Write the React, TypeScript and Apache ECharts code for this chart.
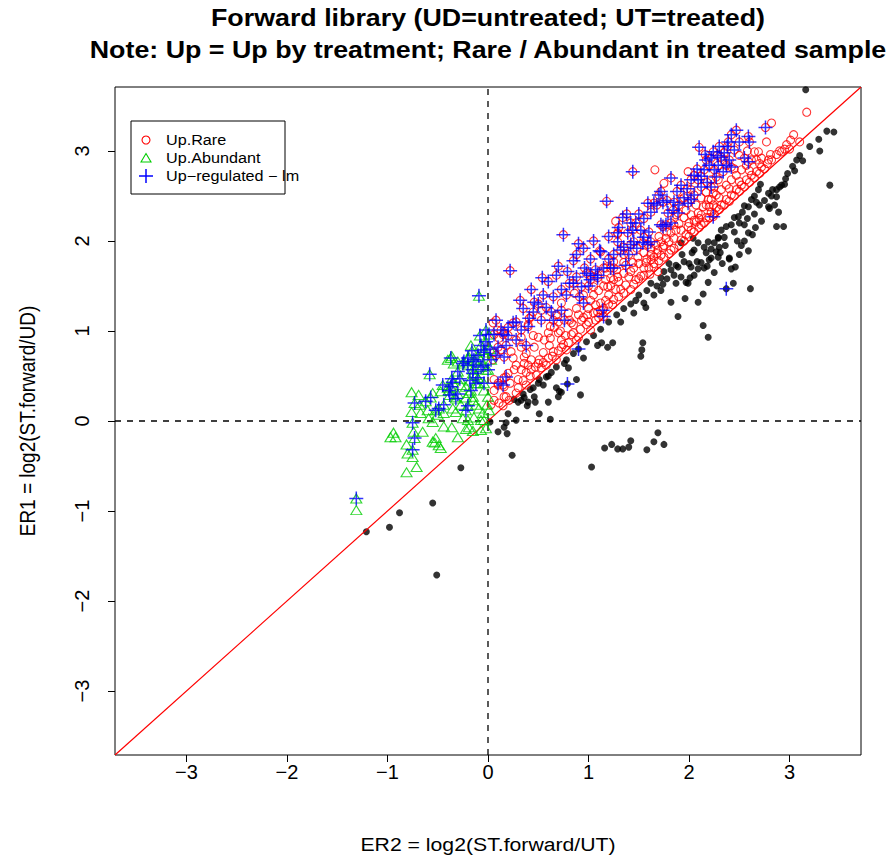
import React, { useEffect, useRef } from "react";
import * as echarts from "echarts";

// ---------- data (x = ER2, y = ER1) ----------
const AXIS_LIMIT = 3.71;
const tickValues = [-3, -2, -1, 0, 1, 2, 3];

const titleLines = [
  "Forward library (UD=untreated; UT=treated)",
  "Note: Up = Up by treatment; Rare / Abundant in treated sample",
];
const xAxisTitle = "ER2 = log2(ST.forward/UT)";
const yAxisTitle = "ER1 = log2(ST.forward/UD)";
const legendLabels = ["Up.Rare", "Up.Abundant", "Up\u2212regulated \u2212 lm"];

// genes not flagged as up (black dots)
const otherGenes: number[][] = [
  [3.37,3.22],[3.44,3.21],[3.29,3.13],[3.30,3.00],[3.40,2.62],[3.13,2.89],[3.07,2.90],[3.03,2.83],[2.96,2.69],[2.95,2.63],
  [2.90,2.60],[2.87,2.57],[2.87,2.49],[2.83,2.57],[2.79,2.53],[2.71,2.63],[2.69,2.57],[2.65,2.50],[2.62,2.46],[2.67,2.43],
  [2.59,2.38],[2.79,2.38],[2.80,2.36],[2.89,2.32],[2.55,2.39],[2.53,2.32],[2.49,2.27],[2.45,2.26],[2.42,2.18],[2.37,2.16],
  [2.32,2.12],[2.35,2.04],[2.45,2.10],[2.55,2.18],[2.59,2.09],[2.63,2.07],[2.87,2.16],[2.94,2.16],[2.59,1.89],[2.29,2.04],
  [2.25,1.98],[2.22,1.91],[2.19,1.99],[2.15,1.93],[2.09,1.98],[2.05,1.90],[2.30,1.93],[2.31,1.87],[2.12,1.76],[2.08,1.77],
  [2.15,1.70],[2.22,1.81],[2.40,1.81],[2.42,1.69],[2.46,1.71],[2.19,1.54],[2.44,1.53],[2.61,1.47],[2.29,1.82],[2.40,1.80],
  [2.09,1.69],[2.01,1.59],[1.97,1.54],[1.96,1.36],[2.14,1.41],[2.09,1.32],[2.14,1.06],[2.19,0.93],[2.04,2.03],[1.92,1.98],
  [2.03,1.87],[2.17,1.87],[1.87,1.73],[1.82,1.68],[1.75,1.66],[1.85,1.62],[1.72,1.59],[1.62,1.53],[1.74,1.52],[1.87,1.53],
  [1.99,1.53],[2.29,2.03],[1.95,1.77],[2.20,1.79],[1.89,1.71],[2.02,1.71],[1.92,1.60],[1.47,1.34],[1.55,1.31],[1.57,1.26],
  [1.82,1.32],[1.89,1.16],[1.32,1.10],[1.54,0.87],[1.53,0.79],[1.52,0.72],[1.09,0.84],[1.13,0.87],[1.19,0.82],[1.24,0.87],
  [0.80,0.59],[0.76,0.64],[0.63,0.54],[0.58,0.49],[0.88,0.46],[0.51,0.46],[0.50,0.42],[0.45,0.37],[0.68,0.37],[0.71,0.33],
  [0.73,0.32],[0.70,0.27],[0.92,0.29],[0.46,0.27],[0.36,0.26],[0.33,0.23],[0.30,0.21],[0.26,0.24],[0.40,0.21],[0.47,0.21],
  [0.60,0.21],[0.39,0.17],[0.20,0.08],[0.51,0.08],[0.62,0.02],[0.28,0.01],[0.18,-0.02],[0.16,-0.07],[0.10,-0.12],[0.19,-0.14],
  [0.24,-0.38],[1.03,-0.51],[1.16,-0.30],[1.23,-0.26],[1.29,-0.31],[1.34,-0.31],[1.40,-0.29],[1.42,-0.22],[1.58,-0.32],[1.65,-0.23],
  [1.69,-0.13],[1.75,-0.26],[0.02,-0.01],[-0.27,-0.52],[-0.55,-0.91],[-0.88,-1.02],[-0.98,-1.18],[-1.21,-1.23],[-0.51,-1.71],[3.16,3.68],
  [2.50,2.20],[2.58,2.25],[2.65,2.30],[2.70,2.40],[2.75,2.45],[2.82,2.50],[2.85,2.40],[2.92,2.62],[2.98,2.75],[3.05,2.78],
  [3.10,2.95],[3.20,3.05],[2.48,2.00],[2.52,1.95],[2.36,1.95],[2.27,1.88],[2.18,1.72],[2.25,1.65],[2.33,1.75],[2.50,1.85],
  [2.55,2.00],[2.66,2.15],[2.72,2.22],[2.05,1.62],[2.00,1.75],[1.93,1.85],[1.80,1.75],[1.78,1.58],[1.68,1.50],[1.58,1.45],
  [1.50,1.40],[1.42,1.30],[1.35,1.25],[1.28,1.18],[1.20,1.10],[1.12,1.02],[1.05,0.95],[0.98,0.88],[0.95,0.70],[0.85,0.75],
  [0.78,0.68],[0.68,0.60],[0.60,0.50],[0.55,0.40],[0.42,0.35],[0.35,0.30],[1.45,1.20],[1.65,1.40],[1.72,1.45],
];

// Up.Rare only (red circles)
const upRare: number[][] = [
  [3.17,3.43],[2.82,3.31],[2.77,3.10],[3.10,3.10],[2.90,3.00],[2.95,3.02],[3.00,3.02],[2.81,2.96],[2.79,2.90],[2.65,2.99],
  [2.69,2.99],[1.66,2.79],[1.99,2.77],[1.75,2.64],[1.27,2.22],[1.29,2.08],[1.25,1.77],[1.35,1.76],[1.42,1.66],[1.52,1.61],
  [1.57,1.76],[1.65,1.82],[1.69,1.90],[1.74,1.93],[1.80,1.99],[1.85,2.03],[1.92,2.12],[1.99,2.16],[2.05,2.23],[2.09,2.31],
  [2.14,2.38],[2.19,2.46],[2.24,2.53],[2.25,2.60],[2.29,2.68],[1.87,2.12],[1.90,2.19],[1.95,2.26],[1.82,2.09],[1.77,2.03],
  [1.72,1.99],[1.67,1.96],[1.62,1.92],[1.55,1.87],[1.49,1.82],[1.44,1.76],[1.55,1.70],[1.65,1.71],[1.69,1.66],[1.61,1.63],
  [1.35,1.64],[1.29,1.60],[1.22,1.59],[1.17,1.70],[1.17,1.57],[1.25,1.57],[1.05,1.49],[1.19,1.49],[1.02,1.34],[1.12,1.31],
  [1.20,1.40],[1.27,1.46],[0.73,1.31],[0.53,1.23],[0.81,1.12],[0.90,1.18],[0.99,1.18],[1.09,1.21],[0.05,1.09],[0.43,1.16],
  [0.40,1.07],[0.66,1.04],[0.85,1.07],[0.16,0.98],[0.33,0.93],[0.50,0.93],[0.60,0.98],[0.70,0.98],[0.83,1.09],[1.07,1.29],
  [1.24,1.29],[0.90,0.93],[0.80,0.87],[0.73,0.82],[0.65,0.77],[0.55,0.76],[0.43,0.68],[0.50,0.64],[0.36,0.64],[0.33,0.57],
  [0.38,0.54],[0.26,0.57],[0.20,0.53],[0.16,0.48],[0.30,0.46],[0.06,0.46],[0.10,0.40],[0.16,0.38],[0.30,0.37],[0.16,0.27],
  [0.06,0.34],[0.06,0.23],[0.15,0.17],[0.03,0.18],[0.33,0.82],[0.23,0.77],[0.13,0.79],[0.06,0.76],[0.05,0.68],[0.36,0.71],
  [0.46,0.82],[0.51,0.68],[0.53,0.59],[0.43,0.57],[0.09,1.01],[0.11,0.92],[0.11,0.20],[0.18,0.27],[2.17,2.40],[2.22,2.46],
  [2.27,2.51],[2.32,2.57],[2.37,2.62],[2.42,2.68],[2.47,2.73],[2.52,2.79],[2.57,2.84],[2.62,2.90],[2.67,2.90],[2.72,2.92],
  [2.32,2.40],[2.37,2.46],[2.42,2.51],[2.47,2.57],[2.52,2.62],[2.57,2.68],[2.62,2.73],[2.67,2.77],[2.72,2.82],[2.12,2.29],
  [2.17,2.26],[2.22,2.32],[2.27,2.37],[2.07,2.21],[2.02,2.12],[1.97,2.07],[2.12,2.18],[2.24,2.40],[2.02,2.29],[2.07,2.40],
  [2.12,2.48],[2.17,2.54],[2.22,2.68],[2.02,2.57],[1.92,2.46],[1.97,2.34],[1.87,2.29],[2.82,2.90],[2.87,2.96],[2.92,2.99],
  [2.97,3.07],[3.01,3.12],[3.04,3.18],[1.32,1.46],[1.37,1.51],[1.42,1.46],[1.47,1.57],[1.12,1.23],[1.17,1.34],[0.93,1.12],
  [0.98,1.07],[1.02,1.01],[1.07,1.12],[0.83,0.96],[0.73,0.90],[0.61,0.84],[0.68,0.68],[0.58,0.62],[0.48,0.51],[0.38,0.40],
  [0.28,0.31],[0.21,0.23],[0.78,0.79],[0.88,0.90],[1.62,1.79],[1.72,1.84],[1.82,1.90],[1.92,2.01],
  [0.35,0.45],[0.42,0.50],[0.47,0.60],[0.55,0.65],[0.60,0.70],[0.40,0.62],[0.56,0.90],[0.62,0.92],[0.45,0.95],[0.25,0.70],
  [0.28,0.62],[0.22,0.42],[0.38,0.75],[0.64,0.72],[0.70,0.78],[0.75,0.85],[0.77,0.95],[0.85,0.98],[0.92,1.02],[0.95,1.15],
  [0.88,1.25],[0.80,1.20],[0.70,1.10],[0.68,1.18],[0.72,1.00],[0.62,1.05],[0.95,1.40],[0.86,1.42],[1.00,1.10],[1.05,1.20],
  [1.10,1.15],[1.15,1.25],[1.20,1.30],[1.25,1.35],[1.30,1.38],[1.35,1.42],[1.10,1.45],[1.15,1.50],[1.30,1.55],[1.22,1.50],
  [1.28,1.68],[1.35,1.85],[1.40,1.60],[1.00,1.25],[1.05,1.40],[1.45,1.52],[1.50,1.58],[1.55,1.62],[1.60,1.70],[1.65,1.75],
  [1.70,1.78],[1.75,1.82],[1.80,1.86],[1.85,1.92],[1.58,1.80],[1.50,1.75],[1.68,1.86],[1.75,1.95],[1.45,1.70],[1.62,1.85],
  [1.78,2.10],[1.70,2.05],[1.85,2.18],[1.90,1.95],[1.95,2.00],[2.00,2.05],[2.05,2.10],[2.10,2.15],[2.15,2.20],[2.20,2.26],
  [2.25,2.30],[2.30,2.35],[2.35,2.40],[2.40,2.44],[2.45,2.50],[2.50,2.55],[2.00,2.20],[2.10,2.25],[2.20,2.38],[2.30,2.48],
  [2.40,2.58],[2.50,2.66],[2.55,2.60],[2.60,2.65],[2.65,2.70],[2.70,2.75],[2.75,2.80],[2.60,2.78],[2.70,2.86],[2.78,2.86],
  [2.50,2.95],[2.58,3.00],[2.35,2.90],[2.45,2.80],
];

// Up.Abundant only (green triangles)
const upAbundant: number[][] = [
  [-0.36,0.72],[-0.30,0.66],[-0.19,0.71],[-0.76,0.32],[-0.69,0.29],[-0.55,0.31],[-0.47,0.33],[-0.40,0.37],[-0.76,0.10],[-0.68,0.18],
  [-0.60,0.12],[-0.50,0.07],[-0.44,0.09],[-0.35,0.14],[-0.32,0.10],[-0.27,0.18],[-0.22,0.26],[-0.19,0.31],[-0.15,0.23],[-0.12,0.18],
  [-0.09,0.14],[-0.05,0.09],[-0.07,0.01],[-0.14,0.04],[-0.20,0.01],[-0.25,0.03],[-0.36,-0.07],[-0.44,-0.06],[-0.55,-0.01],[-0.59,0.03],
  [-0.19,-0.07],[-0.22,-0.09],[-0.15,-0.11],[-0.07,-0.10],[-0.02,-0.08],[-0.30,-0.18],[-0.52,-0.19],[-0.94,-0.13],[-0.92,-0.18],[-0.97,-0.18],
  [-0.74,-0.12],[-0.65,-0.12],[-0.10,0.42],[-0.04,0.34],[0.00,0.27],[-0.22,0.38],[-0.27,0.40],[-0.81,-0.26],[-0.55,-0.23],[-0.49,-0.27],
  [-0.47,-0.30],[-0.80,-0.36],[-0.75,-0.40],[-0.67,0.09],[-0.33,0.27],[-0.15,0.27],[-0.34,0.64],[-0.40,0.68],[-1.31,-0.99],[-0.81,-0.57],
  [-0.71,-0.51],[-0.53,-0.24],[-0.04,0.01],[-0.02,0.57],[-0.07,0.68],[-0.12,0.51],[-0.17,0.84],[-0.01,0.18],[0.01,0.12],
];

// Up-regulated (lm) that are also Up.Abundant
const lmAbundant: number[][] = [
  [-0.09,1.39],[-0.37,0.70],[-0.58,0.52],[-0.36,0.47],[-0.37,0.38],[-0.38,0.29],[-0.57,0.26],[-0.73,0.20],[-0.44,0.18],[-0.49,0.14],
  [-0.20,0.17],[-0.75,-0.02],[-0.73,-0.19],[-0.75,-0.32],[-0.17,0.34],[-0.12,0.42],[-0.20,0.62],[-0.15,0.57],[-0.24,0.66],[-0.07,0.84],
  [-0.02,1.01],[0.01,0.96],[-0.04,0.76],[-0.10,0.73],[-0.14,0.68],[-0.07,0.60],[0.00,0.57],[0.03,0.68],[-0.35,0.43],[-0.39,0.34],
  [-0.52,0.12],[-0.22,0.12],[-0.25,0.64],[-0.10,0.48],[-0.04,0.42],[-0.04,0.79],[-0.20,0.70],[-0.12,0.66],[-0.15,0.53],[-1.31,-0.86],
  [-0.30,0.55],[-0.28,0.47],[-0.45,0.40],[-0.62,0.22],[-0.32,0.25],[-0.05,0.62],[-0.02,0.88],[0.02,0.80],[-0.08,0.95],[-0.30,0.30],
  [-0.16,0.78],[-0.18,0.45],
];

// Up-regulated (lm) that are also Up.Rare
const lmRare: number[][] = [
  [0.10,0.82],[0.15,0.96],[0.20,1.04],[0.16,0.71],[0.10,0.42],[0.18,0.49],[0.15,0.40],[0.06,0.96],[1.18,2.44],[0.75,2.07],
  [0.90,1.97],[0.22,1.67],[1.11,1.89],[1.29,2.09],[0.85,1.78],[0.79,1.66],[0.96,1.70],[1.02,1.62],[1.09,1.59],[0.81,1.53],
  [0.93,1.49],[0.73,1.46],[0.78,1.40],[0.91,1.38],[0.95,1.31],[0.46,1.32],[0.58,1.26],[0.63,1.21],[0.73,1.23],[0.76,1.12],
  [0.45,1.21],[0.41,1.14],[0.53,1.12],[0.25,1.09],[0.65,1.12],[1.14,1.23],[1.15,1.16],[1.02,1.57],[0.98,1.64],[1.07,1.68],
  [1.44,2.77],[1.70,2.51],[1.74,2.43],[1.65,2.42],[1.82,2.70],[2.05,2.73],[2.09,2.68],[2.12,2.60],[2.17,2.90],[2.20,2.84],
  [2.25,2.79],[1.95,2.48],[1.90,2.40],[1.84,2.34],[1.89,2.31],[1.79,2.31],[1.77,2.18],[1.72,2.18],[1.99,2.42],[2.02,2.46],
  [1.47,2.20],[1.44,2.12],[1.52,2.12],[1.55,2.04],[1.59,1.96],[1.62,1.99],[1.39,2.09],[1.34,2.26],[1.35,1.93],[1.32,1.90],
  [1.29,1.99],[1.45,1.99],[1.12,1.88],[1.15,1.70],[1.22,1.70],[1.37,1.73],[1.09,1.62],[2.10,3.04],[2.16,2.96],[1.59,2.42],
  [1.85,2.43],[1.42,2.20],[1.74,2.16],[1.82,2.20],[1.42,1.96],[1.54,1.98],[1.25,1.70],[0.85,1.53],[2.76,3.26],[2.47,3.23],
  [2.59,3.16],[2.60,3.10],[2.42,3.18],[2.39,3.10],[2.24,2.99],[2.35,2.98],[2.45,3.01],[2.40,2.90],[2.32,2.93],[2.22,2.92],
  [2.55,2.92],[2.59,2.88],[2.29,2.84],[2.37,2.84],[2.42,2.82],[2.15,2.79],[2.27,2.71],[2.34,2.77],[2.22,2.60],[2.05,2.51],
  [2.24,2.27],[0.54,1.59],[0.43,1.46],[0.32,1.34],[0.28,1.10],[0.13,1.01],[0.08,1.12],[0.18,0.84],[0.28,0.90],[0.33,1.01],
  [0.38,0.84],[0.08,0.73],
  [0.60,1.55],[0.68,1.62],[0.70,1.72],[0.88,1.85],[0.95,1.92],[1.02,1.80],[1.05,2.00],[1.20,2.05],[1.25,1.85],[1.30,2.15],
  [1.38,2.30],[1.50,2.30],[1.55,2.25],[1.62,2.32],[1.68,2.40],[1.72,2.55],[1.78,2.45],[1.88,2.55],[1.92,2.62],[1.98,2.58],
  [2.02,2.68],[2.08,2.80],[2.12,2.72],[2.18,2.65],[2.28,2.95],[2.50,3.10],[2.38,3.05],[2.30,3.05],[1.60,2.10],[1.48,1.92],
  [1.40,1.85],[1.20,1.80],[1.00,1.50],[0.88,1.60],[0.65,1.38],[0.55,1.40],[0.50,1.30],[0.35,1.25],[0.40,1.05],[0.20,0.95],
];

// Up-regulated (lm) that are in neither Rare nor Abundant
const lmOther: number[][] = [[2.37,1.47],[0.90,0.80],[0.79,0.41]];

// ---------- styling ----------
const FONT = "'Liberation Sans', Arial, Helvetica, sans-serif";
const STRETCH = 1.117;
const GRID = { left: 115, top: 87, width: 746, height: 668 };
const minusFmt = (v: number) => (v < 0 ? "\u2212" + Math.abs(v) : String(v));

const plusPath = "path://M0,5 L10,5 M5,0 L5,10";
const triPath = "path://M0,10 L5.77,0 L11.55,10 Z";

function buildOption() {
  const axisCommon = {
    type: "value" as const,
    min: -AXIS_LIMIT,
    max: AXIS_LIMIT,
    axisLine: { show: false, onZero: false },
    splitLine: { show: false },
    axisTick: {
      show: true,
      inside: false,
      length: 7,
      customValues: tickValues,
      lineStyle: { color: "#000", width: 1 },
    },
  };
  const legendX = 131, legendY = 121;
  const dashStyle = { color: "#000", type: [6, 6] as number[], width: 1.3 };
  return {
    animation: false,
    backgroundColor: "#fff",
    grid: { ...GRID, show: true, borderColor: "#000", borderWidth: 1, backgroundColor: "transparent" },
    xAxis: {
      ...axisCommon,
      axisLabel: {
        customValues: tickValues,
        formatter: minusFmt,
        fontFamily: FONT,
        fontSize: 20,
        color: "#000",
        margin: 7,
      },
    },
    yAxis: {
      ...axisCommon,
      axisLabel: {
        customValues: tickValues,
        formatter: minusFmt,
        fontFamily: FONT,
        fontSize: 20,
        color: "#000",
        rotate: 90,
        margin: 23,
      },
    },
    series: [
      {
        type: "scatter",
        name: "other",
        data: [...otherGenes, ...lmOther],
        symbol: "circle",
        symbolSize: 7,
        itemStyle: { color: "#000" },
        silent: true,
        z: 2,
      },
      {
        type: "line",
        name: "x0",
        data: [[0, -AXIS_LIMIT], [0, AXIS_LIMIT]],
        symbol: "none",
        lineStyle: dashStyle,
        silent: true,
        z: 1,
      },
      {
        type: "line",
        name: "y0",
        data: [[-AXIS_LIMIT, 0], [AXIS_LIMIT, 0]],
        symbol: "none",
        lineStyle: dashStyle,
        silent: true,
        z: 1,
      },
      {
        type: "line",
        name: "diag",
        data: [[-AXIS_LIMIT, -AXIS_LIMIT], [AXIS_LIMIT, AXIS_LIMIT]],
        symbol: "none",
        lineStyle: { color: "#FF0000", width: 1.2 },
        silent: true,
        z: 3,
      },
      {
        type: "scatter",
        name: "Up.Rare",
        data: [...upRare, ...lmRare],
        symbol: "circle",
        symbolSize: 8,
        itemStyle: { color: "rgba(0,0,0,0)", borderColor: "#FF0000", borderWidth: 1.1 },
        silent: true,
        z: 4,
      },
      {
        type: "scatter",
        name: "Up.Abundant",
        data: [...upAbundant, ...lmAbundant],
        symbol: triPath,
        symbolSize: [11, 9],
        itemStyle: { color: "rgba(0,0,0,0)", borderColor: "#00CD00", borderWidth: 1.1 },
        silent: true,
        z: 5,
      },
      {
        type: "scatter",
        name: "Up-regulated - lm",
        data: [...lmRare, ...lmAbundant, ...lmOther],
        symbol: plusPath,
        symbolSize: 14,
        itemStyle: { color: "rgba(0,0,0,0)", borderColor: "#0000FF", borderWidth: 1.5 },
        silent: true,
        z: 6,
      },
    ],
    graphic: [
      {
        type: "text",
        x: 488, y: 18,
        scaleX: STRETCH,
        style: { text: titleLines[0], fontFamily: FONT, fontWeight: "bold", fontSize: 24, fill: "#000", align: "center", verticalAlign: "middle" },
      },
      {
        type: "text",
        x: 488, y: 50,
        scaleX: STRETCH,
        style: { text: titleLines[1], fontFamily: FONT, fontWeight: "bold", fontSize: 24, fill: "#000", align: "center", verticalAlign: "middle" },
      },
      {
        type: "text",
        x: 488, y: 844,
        scaleX: STRETCH,
        style: { text: xAxisTitle, fontFamily: FONT, fontSize: 19, fill: "#000", align: "center", verticalAlign: "middle" },
      },
      {
        type: "text",
        x: 28, y: 421,
        rotation: Math.PI / 2,
        scaleY: STRETCH,
        style: { text: yAxisTitle, fontFamily: FONT, fontSize: 19, fill: "#000", align: "center", verticalAlign: "middle" },
      },
      {
        type: "group",
        z: 100,
        children: [
          { type: "rect", shape: { x: legendX, y: legendY, width: 154, height: 73 }, style: { fill: "#fff", stroke: "#000", lineWidth: 1 } },
          { type: "circle", shape: { cx: legendX + 15, cy: legendY + 19, r: 4 }, style: { fill: "none", stroke: "#FF0000", lineWidth: 1.1 } },
          { type: "polygon", shape: { points: [[legendX + 10, legendY + 41], [legendX + 15, legendY + 32.5], [legendX + 20, legendY + 41]] }, style: { fill: "none", stroke: "#00CD00", lineWidth: 1.1 } },
          { type: "line", shape: { x1: legendX + 8, y1: legendY + 55, x2: legendX + 22, y2: legendY + 55 }, style: { stroke: "#0000FF", lineWidth: 1.5 } },
          { type: "line", shape: { x1: legendX + 15, y1: legendY + 48, x2: legendX + 15, y2: legendY + 62 }, style: { stroke: "#0000FF", lineWidth: 1.5 } },
          ...legendLabels.map((t, i) => ({
            type: "text",
            x: legendX + 35,
            y: legendY + 19 + i * 18,
            scaleX: STRETCH,
            style: { text: t, fontFamily: FONT, fontSize: 14.5, fill: "#000", align: "left", verticalAlign: "middle" },
          })),
        ],
      },
    ],
  };
}

export default function App() {
  const ref = useRef<HTMLDivElement>(null);
  useEffect(() => {
    if (!ref.current) return;
    const chart = echarts.init(ref.current, null, { renderer: "svg" });
    chart.setOption(buildOption() as any);
    return () => chart.dispose();
  }, []);
  return (
    <div
      ref={ref}
      style={{ position: "absolute", left: 0, top: 0, width: 892, height: 860, background: "#fff" }}
    />
  );
}
